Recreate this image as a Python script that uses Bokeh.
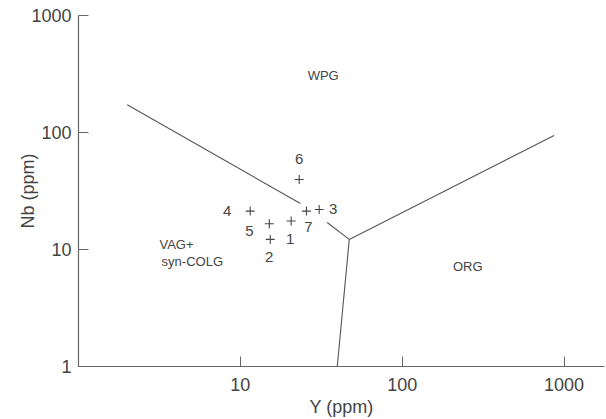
from bokeh.plotting import figure
from bokeh.models import FixedTicker, ColumnDataSource, Range1d
from bokeh.core.properties import value
from bokeh.embed import file_html
from bokeh.resources import INLINE

# ---- data ----
sample_ids = ["1", "2", "3", "4", "5", "6", "7"]
y_ppm = [20.6, 15.3, 30.7, 11.5, 15.1, 23.1, 25.6]
nb_ppm = [17.5, 12.2, 22.0, 21.3, 16.6, 39.6, 21.3]
label_side = ["below", "below", "right", "left", "leftbelow", "above", "below7"]

# discrimination boundaries (Y, Nb)
wpg_vag_y = [2.0, 23.5]
wpg_vag_nb = [173, 24.7]
wpg_vag2_y = [34.4, 47.1]
wpg_vag2_nb = [17.0, 12.2]
wpg_org_y = [47.1, 868]
wpg_org_nb = [12.2, 94.3]
vag_org_y = [47.1, 39.7]
vag_org_nb = [12.2, 1.0]

field_names = ["WPG", "VAG+", "syn-COLG", "ORG"]
field_y = [32.5, 4.03, 5.05, 254]
field_nb = [307, 11.0, 7.9, 7.2]

x_ticks = [10, 100, 1000]
y_ticks = [1, 10, 100, 1000]

# ---- styles ----
FONT = "Liberation Sans"
TXT = "#444444"
LINE = "#555555"
offsets = {
    "below": (-1, 18), "right": (14, 0), "left": (-23, 0),
    "leftbelow": (-20, 7), "above": (0, -21), "below7": (2, 16),
}

p = figure(width=606, height=419, x_axis_type="log", y_axis_type="log",
           x_range=Range1d(1, 10 ** 3.25), y_range=Range1d(1, 1000),
           output_backend="svg", toolbar_location=None,
           min_border_left=78, min_border_right=2, min_border_top=15,
           min_border_bottom=53)
p.outline_line_color = None
p.xgrid.visible = False
p.ygrid.visible = False
p.background_fill_color = "white"
p.border_fill_color = "white"

for ax in (p.xaxis[0], p.yaxis[0]):
    ax.axis_line_color = "#666666"
    ax.axis_line_width = 1.2
    ax.major_tick_line_color = "#666666"
    ax.major_tick_in = 10
    ax.major_tick_out = 0
    ax.minor_tick_line_color = None
    ax.major_label_text_font = FONT
    ax.major_label_text_font_size = "18px"
    ax.major_label_text_color = TXT
    ax.axis_label_text_font = FONT
    ax.axis_label_text_font_size = "18px"
    ax.axis_label_text_font_style = "normal"
    ax.axis_label_text_color = TXT

p.xaxis.ticker = FixedTicker(ticks=x_ticks)
p.yaxis.ticker = FixedTicker(ticks=y_ticks)
p.xaxis.major_label_overrides = {t: str(t) for t in x_ticks}
p.yaxis.major_label_overrides = {t: str(t) for t in y_ticks}
p.xaxis.major_label_standoff = 11
p.yaxis.major_label_standoff = 7
p.xaxis.axis_label = "Y (ppm)"
p.yaxis.axis_label = "Nb (ppm)"
p.xaxis.axis_label_standoff = 3
p.yaxis.axis_label_standoff = -10

for xs, ys in ((wpg_vag_y, wpg_vag_nb), (wpg_vag2_y, wpg_vag2_nb),
               (wpg_org_y, wpg_org_nb), (vag_org_y, vag_org_nb)):
    p.line(xs, ys, line_color=LINE, line_width=1.1)

src = ColumnDataSource(dict(
    x=y_ppm, y=nb_ppm, t=sample_ids,
    dx=[offsets[s][0] for s in label_side],
    dy=[offsets[s][1] for s in label_side],
))
p.scatter("x", "y", source=src, marker="cross", size=9,
          line_color="#444444", line_width=1.1)
p.text("x", "y", text="t", source=src, x_offset="dx", y_offset="dy",
       text_align="center", text_baseline="middle",
       text_font=value(FONT), text_font_size="15px", text_color=TXT)

p.text(field_y, field_nb, text=field_names, text_align="center",
       text_baseline="middle", text_font=value(FONT),
       text_font_size="13px", text_color=TXT)

open("out.html", "w").write(file_html(p, INLINE))
